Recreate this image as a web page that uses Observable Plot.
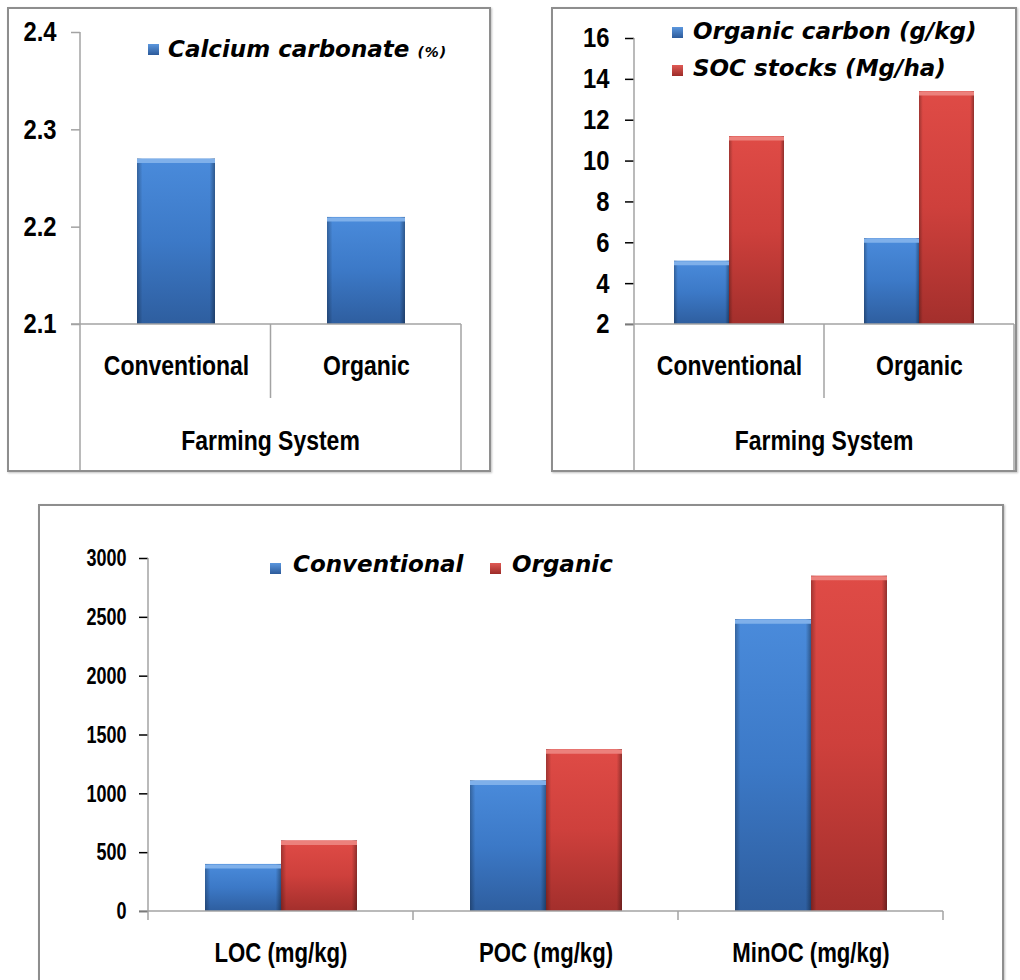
<!DOCTYPE html>
<html>
<head>
<meta charset="utf-8">
<script src="https://cdn.jsdelivr.net/npm/d3@7"></script>
<script src="https://cdn.jsdelivr.net/npm/@observablehq/plot@0.6"></script>
<style>
  html, body { margin: 0; padding: 0; background: #fff; }
  body { width: 1020px; height: 980px; position: relative; overflow: hidden; }
  .panel { position: absolute; box-sizing: border-box; border: 2px solid #8e8e8e; box-shadow: 1px 1px 2px rgba(0,0,0,0.25); background: #fff; }
  .chart { position: absolute; }
  .chart svg { overflow: visible; }
  .lg { position: absolute; font-family: "DejaVu Sans", sans-serif; font-weight: bold; font-style: italic; color: #000; white-space: nowrap; line-height: 1; font-size: 23px; }
  .sw { position: absolute; width: 11px; height: 11px; }
  .sw.blue { background: linear-gradient(#5b97de, #2c5a9a); }
  .sw.red { background: linear-gradient(#e05a55, #9c2b28); }
  .small { font-size: 14px; letter-spacing: 1px; }
</style>
</head>
<body>
<svg width="0" height="0" style="position:absolute">
  <defs>
    <linearGradient id="gBlue" x1="0" y1="0" x2="0" y2="1">
      <stop offset="0" stop-color="#4a8bdb"/>
      <stop offset="0.5" stop-color="#3c79c7"/>
      <stop offset="1" stop-color="#2e5e9f"/>
    </linearGradient>
    <linearGradient id="gRed" x1="0" y1="0" x2="0" y2="1">
      <stop offset="0" stop-color="#df4b46"/>
      <stop offset="0.5" stop-color="#ce403c"/>
      <stop offset="1" stop-color="#a32f2c"/>
    </linearGradient>
    <linearGradient id="gShade" x1="0" y1="0" x2="1" y2="0">
      <stop offset="0" stop-color="#000" stop-opacity="0.28"/>
      <stop offset="0.07" stop-color="#000" stop-opacity="0"/>
      <stop offset="0.93" stop-color="#000" stop-opacity="0"/>
      <stop offset="1" stop-color="#000" stop-opacity="0.35"/>
    </linearGradient>
  </defs>
</svg>

<div class="panel" style="left:7px;top:7px;width:484px;height:465px"></div>
<div class="panel" style="left:551px;top:7px;width:466px;height:465px"></div>
<div class="panel" style="left:38px;top:504px;width:966px;height:490px"></div>

<div id="c1" class="chart" style="left:0;top:0"></div>
<div id="c2" class="chart" style="left:540px;top:0"></div>
<div id="c3" class="chart" style="left:0;top:490px"></div>

<!-- legends -->
<div class="sw blue" style="left:148px;top:44px"></div>
<div class="lg" id="lg1" style="left:168px;top:38px"></div>

<div class="sw blue" style="left:672px;top:27px"></div>
<div class="lg" id="lg2a" style="left:693px;top:20px"></div>
<div class="sw red" style="left:672px;top:65px"></div>
<div class="lg" id="lg2b" style="left:693px;top:57px"></div>

<div class="sw blue" style="left:270px;top:563px"></div>
<div class="lg" id="lg3a" style="left:293px;top:553px"></div>
<div class="sw red" style="left:490px;top:563px"></div>
<div class="lg" id="lg3b" style="left:512px;top:553px"></div>

<script>
// ---------------- DATA ----------------
const farmingSystems = ["Conventional", "Organic"];
const xGroupTitle = "Farming System";

// Panel 1
const calciumLabel = "Calcium carbonate";
const calciumUnit = "(%)";
const calciumCarbonate = [2.27, 2.21];
const calciumTicks = [2.1, 2.2, 2.3, 2.4];

// Panel 2
const carbonSeries = ["Organic carbon (g/kg)", "SOC stocks (Mg/ha)"];
const organicCarbon = [5.1, 6.2];
const socStocks = [11.2, 13.4];
const carbonTicks = [2, 4, 6, 8, 10, 12, 14, 16];

// Panel 3
const fractions = ["LOC (mg/kg)", "POC (mg/kg)", "MinOC (mg/kg)"];
const conventionalFractions = [400, 1110, 2480];
const organicFractions = [600, 1375, 2850];
const fractionTicks = [0, 500, 1000, 1500, 2000, 2500, 3000];
const fractionSeries = ["Conventional", "Organic"];

// ---------------- STYLE ----------------
const NARROW = '"Liberation Sans",Arial,sans-serif';
const SQUEEZE = 0.82; // emulate a narrow bold face
const AXIS = "#a3a3a3";
const fills = ["url(#gBlue)", "url(#gRed)"];
const tops = ["#7fb0ea", "#ec817c"];

// legends
document.getElementById("lg1").innerHTML = calciumLabel + ' <span class="small">' + calciumUnit + '</span>';
document.getElementById("lg2a").textContent = carbonSeries[0];
document.getElementById("lg2b").textContent = carbonSeries[1];
document.getElementById("lg3a").textContent = fractionSeries[0];
document.getElementById("lg3b").textContent = fractionSeries[1];

function line(g, x1, y1, x2, y2) {
  g.append("line").attr("x1", x1).attr("y1", y1).attr("x2", x2).attr("y2", y2)
    .attr("stroke", AXIS).attr("stroke-width", 1.5);
}
function styleTicks(svg) {
  d3.select(svg).selectAll('g[aria-label="y-axis tick"]').attr("stroke", AXIS).attr("stroke-width", 1.5);
}
function squeeze(svg, tickFactor) {
  d3.select(svg).selectAll("text").each(function () {
    const isTick = this.closest('g[aria-label="y-axis tick label"]') !== null;
    const f = isTick ? tickFactor : SQUEEZE;
    const L = this.getComputedTextLength();
    if (L > 0) {
      this.setAttribute("textLength", (L * f).toFixed(2));
      this.setAttribute("lengthAdjust", "spacingAndGlyphs");
    }
  });
}
function groupTitle(plot, cx, cy) {
  d3.select(plot).append("text").attr("x", cx).attr("y", cy).attr("dy", "0.35em")
    .attr("text-anchor", "middle").attr("font-size", 28).attr("font-weight", "bold")
    .attr("font-family", NARROW).attr("fill", "#000").text(xGroupTitle);
}

// ---------------- PANEL 1 ----------------
{
  const data = farmingSystems.map((s, i) => ({system: s, value: calciumCarbonate[i]}));
  const plot = Plot.plot({
    width: 500, height: 480,
    marginLeft: 80, marginRight: 39, marginTop: 32, marginBottom: 156,
    style: {fontFamily: NARROW, fontWeight: "bold", fontSize: "28px", color: "#000", background: "transparent", overflow: "visible"},
    x: {domain: farmingSystems, paddingInner: 0.59, paddingOuter: 0.295, axis: null},
    y: {domain: [calciumTicks[0], calciumTicks[calciumTicks.length - 1]], ticks: calciumTicks, tickFormat: d3.format(".1f"), tickSize: 9, tickPadding: 15, label: null},
    marks: [
      Plot.barY(data, {x: "system", y1: calciumTicks[0], y2: "value", fill: fills[0]}),
      Plot.barY(data, {x: "system", y1: calciumTicks[0], y2: "value", fill: "url(#gShade)"}),
      Plot.tickY(data, {x: "system", y: "value", stroke: tops[0], strokeWidth: 4, dy: 2}),
      Plot.text(data, {x: "system", text: "system", frameAnchor: "bottom", dy: 42, lineAnchor: "middle", fontSize: 28, fontWeight: "bold", fontFamily: NARROW, fill: "#000"})
    ]
  });
  document.getElementById("c1").append(plot);
  styleTicks(plot);
  const x = plot.scale("x"), y = plot.scale("y");
  const [x0, x1] = x.range, yb = y.apply(calciumTicks[0]), yt = y.apply(calciumTicks[calciumTicks.length - 1]);
  const g = d3.select(plot).append("g");
  line(g, x0, yt, x0, 470);
  line(g, x0 - 9, yb, x1, yb);
  for (let i = 1; i < farmingSystems.length; i++) { const xs = x0 + i * (x1 - x0) / farmingSystems.length; line(g, xs, yb, xs, yb + 74); }
  line(g, x1, yb, x1, 470);
  groupTitle(plot, (x0 + x1) / 2, yb + 116);
  squeeze(plot, 0.85);
}

// ---------------- PANEL 2 ----------------
{
  const data = [];
  farmingSystems.forEach((s, i) => {
    data.push({system: s, series: carbonSeries[0], value: organicCarbon[i], k: 0});
    data.push({system: s, series: carbonSeries[1], value: socStocks[i], k: 1});
  });
  const plot = Plot.plot({
    width: 480, height: 480,
    marginLeft: 94, marginRight: 6, marginTop: 38, marginBottom: 156,
    style: {fontFamily: NARROW, fontWeight: "bold", fontSize: "28px", color: "#000", background: "transparent", overflow: "visible"},
    fx: {domain: farmingSystems, padding: 0, axis: null, label: null},
    x: {domain: carbonSeries, paddingInner: 0, paddingOuter: 0.727, axis: null},
    y: {domain: [carbonTicks[0], carbonTicks[carbonTicks.length - 1]], ticks: carbonTicks, tickSize: 9, tickPadding: 16, label: null},
    marks: [
      Plot.barY(data, {fx: "system", x: "series", y1: carbonTicks[0], y2: "value", fill: d => fills[d.k]}),
      Plot.barY(data, {fx: "system", x: "series", y1: carbonTicks[0], y2: "value", fill: "url(#gShade)"}),
      Plot.tickY(data, {fx: "system", x: "series", y: "value", stroke: d => tops[d.k], strokeWidth: 4, dy: 2}),
      Plot.text(farmingSystems, {fx: d => d, text: d => d, frameAnchor: "bottom", dy: 42, lineAnchor: "middle", fontSize: 28, fontWeight: "bold", fontFamily: NARROW, fill: "#000"})
    ]
  });
  document.getElementById("c2").append(plot);
  styleTicks(plot);
  const fx = plot.scale("fx"), y = plot.scale("y");
  const [x0, x1] = fx.range, yb = y.apply(carbonTicks[0]), yt = y.apply(carbonTicks[carbonTicks.length - 1]);
  const g = d3.select(plot).append("g");
  line(g, x0, yt, x0, 470);
  line(g, x0 - 9, yb, x1, yb);
  for (let i = 1; i < farmingSystems.length; i++) { const xs = x0 + i * (x1 - x0) / farmingSystems.length; line(g, xs, yb, xs, yb + 74); }
  line(g, x1, yb, x1, 470);
  groupTitle(plot, (x0 + x1) / 2, yb + 116);
  squeeze(plot, 0.85);
}

// ---------------- PANEL 3 ----------------
{
  const data = [];
  fractions.forEach((f, i) => {
    data.push({fraction: f, series: fractionSeries[0], value: conventionalFractions[i], k: 0});
    data.push({fraction: f, series: fractionSeries[1], value: organicFractions[i], k: 1});
  });
  const plot = Plot.plot({
    width: 1020, height: 490,
    marginLeft: 148, marginRight: 77, marginTop: 68, marginBottom: 69,
    style: {fontFamily: NARROW, fontWeight: "bold", fontSize: "24px", color: "#000", background: "transparent", overflow: "visible"},
    fx: {domain: fractions, padding: 0, axis: null, label: null},
    x: {domain: fractionSeries, paddingInner: 0, paddingOuter: 0.743, axis: null},
    y: {domain: [fractionTicks[0], fractionTicks[fractionTicks.length - 1]], ticks: fractionTicks, tickFormat: d3.format("d"), tickSize: 9, tickPadding: 13, label: null},
    marks: [
      Plot.barY(data, {fx: "fraction", x: "series", y1: fractionTicks[0], y2: "value", fill: d => fills[d.k]}),
      Plot.barY(data, {fx: "fraction", x: "series", y1: fractionTicks[0], y2: "value", fill: "url(#gShade)"}),
      Plot.tickY(data, {fx: "fraction", x: "series", y: "value", stroke: d => tops[d.k], strokeWidth: 4, dy: 2}),
      Plot.text(fractions, {fx: d => d, text: d => d, frameAnchor: "bottom", dy: 42, lineAnchor: "middle", fontSize: 27, fontWeight: "bold", fontFamily: NARROW, fill: "#000"})
    ]
  });
  document.getElementById("c3").append(plot);
  styleTicks(plot);
  const fx = plot.scale("fx"), y = plot.scale("y");
  const [x0, x1] = fx.range, yb = y.apply(fractionTicks[0]), yt = y.apply(fractionTicks[fractionTicks.length - 1]);
  const g = d3.select(plot).append("g");
  line(g, x0, yt, x0, yb + 9);
  line(g, x0 - 9, yb, x1, yb);
  for (let i = 1; i <= fractions.length; i++) { const xs = x0 + i * (x1 - x0) / fractions.length; line(g, xs, yb, xs, yb + 9); }
  squeeze(plot, 0.75);
}
</script>
</body>
</html>
